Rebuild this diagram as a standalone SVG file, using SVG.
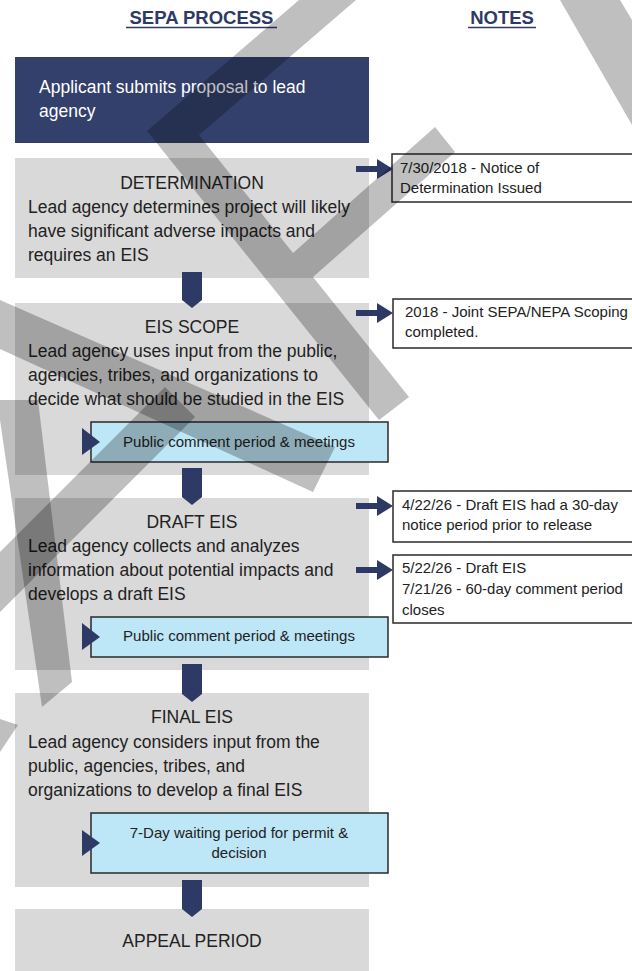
<svg xmlns="http://www.w3.org/2000/svg" width="632" height="971" viewBox="0 0 632 971">
<style>
text{font-family:"Liberation Sans",Arial,sans-serif;fill:#222}
.hdr{font-size:18.5px;font-weight:bold;fill:#2e3a66;text-anchor:middle}
.ul{stroke:#2e3a66;stroke-width:1.6}
.step{fill:#d9d9d9}
.t{font-size:17.5px}
.c{text-anchor:middle}
.sub{fill:#bde6f6;stroke:#2a2a2a;stroke-width:1.5}
.st{font-size:15px}
.note{fill:#fff;stroke:#2a2a2a;stroke-width:1.5}
.nav{fill:#2e3a66}
.wm{fill:#000;opacity:0.25}
</style>
<rect width="632" height="971" fill="#fff"/>
<text class="hdr" x="201.5" y="24">SEPA PROCESS</text>
<line class="ul" x1="126" y1="27.5" x2="277" y2="27.5"/>
<text class="hdr" x="502" y="24">NOTES</text>
<line class="ul" x1="468" y1="27.5" x2="536" y2="27.5"/>

<g id="applicant">
<rect x="15" y="57" width="354" height="86" fill="#33406b"/>
<text class="t" x="39" y="93" style="fill:#fff">Applicant submits proposal to lead</text>
<text class="t" x="39" y="117" style="fill:#fff">agency</text>
</g>

<g id="determination">
<rect class="step" x="15" y="158" width="354" height="120"/>
<text class="t c" x="192" y="189">DETERMINATION</text>
<text class="t" x="28" y="213">Lead agency determines project will likely</text>
<text class="t" x="28" y="237">have significant adverse impacts and</text>
<text class="t" x="28" y="261">requires an EIS</text>
</g>

<g id="eis-scope">
<rect class="step" x="15" y="303" width="354" height="172"/>
<text class="t c" x="192" y="333">EIS SCOPE</text>
<text class="t" x="28" y="357">Lead agency uses input from the public,</text>
<text class="t" x="28" y="381">agencies, tribes, and organizations to</text>
<text class="t" x="28" y="405">decide what should be studied in the EIS</text>
</g>
<g id="scope-comment">
<rect class="sub" x="91" y="422" width="297" height="40"/>
<polygon class="nav" points="82,428 100,442 82,455"/>
<text class="st c" x="239" y="447">Public comment period &amp; meetings</text>
</g>

<g id="draft-eis">
<rect class="step" x="15" y="498" width="354" height="172"/>
<text class="t c" x="192" y="528">DRAFT EIS</text>
<text class="t" x="28" y="552">Lead agency collects and analyzes</text>
<text class="t" x="28" y="576">information about potential impacts and</text>
<text class="t" x="28" y="600">develops a draft EIS</text>
</g>
<g id="draft-comment">
<rect class="sub" x="91" y="617" width="297" height="40"/>
<polygon class="nav" points="82,623 100,637 82,650"/>
<text class="st c" x="239" y="641">Public comment period &amp; meetings</text>
</g>

<g id="final-eis">
<rect class="step" x="15" y="693" width="354" height="194"/>
<text class="t c" x="192" y="723">FINAL EIS</text>
<text class="t" x="28" y="748">Lead agency considers input from the</text>
<text class="t" x="28" y="772">public, agencies, tribes, and</text>
<text class="t" x="28" y="796">organizations to develop a final EIS</text>
</g>
<g id="waiting">
<rect class="sub" x="91" y="813" width="297" height="60"/>
<polygon class="nav" points="82,830 100,843 82,856"/>
<text class="st c" x="239" y="838">7-Day waiting period for permit &amp;</text>
<text class="st c" x="239" y="858">decision</text>
</g>

<g id="appeal">
<rect class="step" x="15" y="909" width="354" height="70"/>
<text class="t c" x="192" y="947">APPEAL PERIOD</text>
</g>

<g id="note1">
<rect class="note" x="392" y="154" width="260" height="48"/>
<text class="st" x="400" y="173">7/30/2018 - Notice of</text>
<text class="st" x="400" y="193">Determination Issued</text>
</g>
<g id="note2">
<rect class="note" x="393" y="299" width="260" height="49"/>
<text class="st" x="405" y="317">2018 - Joint SEPA/NEPA Scoping</text>
<text class="st" x="405" y="337">completed.</text>
</g>
<g id="note3">
<rect class="note" x="393" y="491" width="260" height="51"/>
<text class="st" x="402" y="510">4/22/26 - Draft EIS had a 30-day</text>
<text class="st" x="402" y="530">notice period prior to release</text>
</g>
<g id="note4">
<rect class="note" x="393" y="555" width="260" height="68"/>
<text class="st" x="402" y="573">5/22/26 - Draft EIS</text>
<text class="st" x="402" y="594">7/21/26 - 60-day comment period</text>
<text class="st" x="402" y="615">closes</text>
</g>

<g id="connectors" class="nav">
<path d="M182,272H202V300L192,308L182,300Z"/>
<path d="M182,468H202V497L192,505L182,497Z"/>
<path d="M182,664H202V694L192,702L182,694Z"/>
<path d="M182,880H202V909L192,917L182,909Z"/>
<path d="M356,166H377V159L393,169L377,179V172H356Z"/>
<path d="M356,310H377V303L393,313L377,323V316H356Z"/>
<path d="M356,503H377V496L393,506L377,516V509H356Z"/>
<path d="M356,567H377V560L393,570L377,580V573H356Z"/>
</g>

<g id="watermark">
<polygon class="wm" points="299,0 356,0 199,135 293,253 435,127 455,152 313,277 409,397 379,420 147,131"/>
<polygon class="wm" points="560,0 620,0 632,20 632,125"/>
<polygon class="wm" points="0,300 335,447 313,492 0,349"/>
<polygon class="wm" points="165,387 195,417 0,612 0,552"/>
<polygon class="wm" points="0,400 38,400 72,682 42,707 0,420"/>
<polygon class="wm" points="0,719 18,725 0,752"/>
</g>
</svg>
